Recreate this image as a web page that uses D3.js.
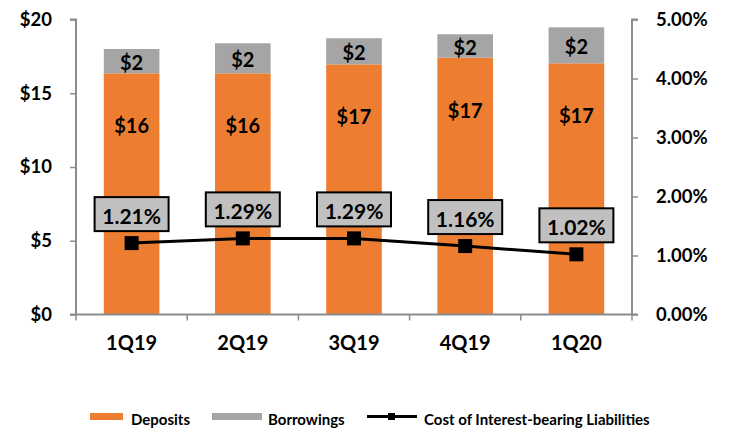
<!DOCTYPE html>
<html>
<head>
<meta charset="utf-8">
<script src="https://cdn.jsdelivr.net/npm/d3@7"></script>
<style>
  html, body { margin: 0; padding: 0; background: #fff; }
  svg { display: block; font-family: Lato, "Open Sans", sans-serif; font-weight: bold; }
</style>
</head>
<body>
<svg id="chart" width="732" height="429"></svg>
<script>
const categories = ["1Q19", "2Q19", "3Q19", "4Q19", "1Q20"];
const deposits = [16.35, 16.35, 16.96, 17.41, 17.03];
const borrowings = [1.65, 2.04, 1.77, 1.59, 2.44];
const depositLabels = ["$16", "$16", "$17", "$17", "$17"];
const borrowingLabels = ["$2", "$2", "$2", "$2", "$2"];
const costRate = [1.21, 1.29, 1.29, 1.16, 1.02];
const costLabels = ["1.21%", "1.29%", "1.29%", "1.16%", "1.02%"];
const leftTicks = [0, 5, 10, 15, 20];
const rightTicks = [0, 1, 2, 3, 4, 5];
const legendItems = ["Deposits", "Borrowings", "Cost of Interest-bearing Liabilities"];

const svg = d3.select("#chart");
const plotLeft = 76, plotRight = 632, plotTop = 19.5, plotBottom = 314.5;
const orange = "#ED7D31", gray = "#A5A5A5", axisColor = "#8c8c8c";

const x = d3.scaleBand().domain(categories).range([plotLeft, plotRight]).paddingInner(0.5).paddingOuter(0.25);
const band = d3.scaleBand().domain(categories).range([plotLeft, plotRight]);
const yL = d3.scaleLinear().domain([0, 20]).range([plotBottom, plotTop]);
const yR = d3.scaleLinear().domain([0, 5]).range([plotBottom, plotTop]);

// bars
const g = svg.append("g");
g.selectAll("rect.dep").data(categories).join("rect")
  .attr("x", d => x(d)).attr("width", x.bandwidth())
  .attr("y", (d, i) => yL(deposits[i]))
  .attr("height", (d, i) => yL(0) - yL(deposits[i]))
  .attr("fill", orange);
g.selectAll("rect.bor").data(categories).join("rect")
  .attr("x", d => x(d)).attr("width", x.bandwidth())
  .attr("y", (d, i) => yL(deposits[i] + borrowings[i]))
  .attr("height", (d, i) => yL(deposits[i]) - yL(deposits[i] + borrowings[i]))
  .attr("fill", gray);

// bar labels
g.selectAll("text.dep").data(categories).join("text")
  .attr("x", d => x(d) + x.bandwidth() / 2)
  .attr("y", (d, i) => yL(deposits[i]) + 52)
  .attr("text-anchor", "middle").attr("dominant-baseline", "central")
  .attr("font-size", 20).attr("fill", "#000")
  .text((d, i) => depositLabels[i]);
g.selectAll("text.bor").data(categories).join("text")
  .attr("x", d => x(d) + x.bandwidth() / 2)
  .attr("y", (d, i) => yL(deposits[i] + borrowings[i] / 2) + 1)
  .attr("text-anchor", "middle").attr("dominant-baseline", "central")
  .attr("font-size", 20).attr("fill", "#000")
  .text((d, i) => borrowingLabels[i]);

// axes
const axL = svg.append("g").attr("transform", `translate(${plotLeft},0)`)
  .call(d3.axisLeft(yL).tickValues(leftTicks).tickFormat(d => "$" + d).tickSize(6).tickPadding(18));
const axR = svg.append("g").attr("transform", `translate(${plotRight},0)`)
  .call(d3.axisRight(yR).tickValues(rightTicks).tickFormat(d => d.toFixed(2) + "%").tickSize(6).tickPadding(18));
const axB = svg.append("g").attr("transform", `translate(0,${plotBottom})`)
  .call(d3.axisBottom(band).tickSize(0).tickPadding(21));
// band boundary ticks
svg.append("g").selectAll("line").data(categories.concat(["end"])).join("line")
  .attr("x1", (d, i) => plotLeft + i * band.step()).attr("x2", (d, i) => plotLeft + i * band.step())
  .attr("y1", plotBottom).attr("y2", plotBottom + 6)
  .attr("stroke", axisColor).attr("stroke-width", 1.5);

[axL, axR, axB].forEach(a => {
  a.select(".domain").attr("stroke", axisColor).attr("stroke-width", 2);
  a.selectAll(".tick line").attr("stroke", axisColor).attr("stroke-width", 1.5);
  a.selectAll(".tick text").attr("fill", "#000").attr("font-size", 18.5).attr("font-weight", "bold")
    .attr("font-family", "Lato, 'Open Sans', sans-serif");
});
axB.selectAll(".tick text").attr("font-size", 20);
axL.select(".domain").attr("d", `M-6,${plotTop}H0V${plotBottom}H-6`);
axR.select(".domain").attr("d", `M6,${plotTop}H0V${plotBottom}H6`);
axB.select(".domain").attr("d", `M${plotLeft},0H${plotRight}`);

// line
const cx = d => band(d) + band.bandwidth() / 2;
const line = d3.line().x((d, i) => cx(categories[i])).y(d => yR(d));
svg.append("path").datum(costRate).attr("d", line)
  .attr("fill", "none").attr("stroke", "#000").attr("stroke-width", 3);
svg.selectAll("rect.mk").data(costRate).join("rect")
  .attr("x", (d, i) => cx(categories[i]) - 7).attr("y", d => yR(d) - 7)
  .attr("width", 14).attr("height", 14).attr("fill", "#000");

// percentage label boxes
const lbl = svg.append("g").selectAll("g").data(costRate).join("g")
  .attr("transform", (d, i) => `translate(${cx(categories[i])},${yR(d) - 29})`);
lbl.append("rect").attr("x", -37).attr("y", -17).attr("width", 74).attr("height", 34)
  .attr("fill", "#C0C0C0").attr("stroke", "#000").attr("stroke-width", 2);
lbl.append("text").attr("text-anchor", "middle").attr("dominant-baseline", "central")
  .attr("y", 1).attr("font-size", 21).attr("fill", "#000")
  .text((d, i) => costLabels[i]);

// legend
const lg = svg.append("g").attr("font-size", 15).attr("fill", "#000");
lg.append("rect").attr("x", 90).attr("y", 413).attr("width", 33).attr("height", 7).attr("fill", orange);
lg.append("text").attr("x", 131).attr("y", 419).attr("dominant-baseline", "central").text(legendItems[0]);
lg.append("rect").attr("x", 212).attr("y", 413).attr("width", 50).attr("height", 7).attr("fill", gray);
lg.append("text").attr("x", 268).attr("y", 419).attr("dominant-baseline", "central").text(legendItems[1]);
lg.append("line").attr("x1", 367).attr("x2", 417).attr("y1", 416.5).attr("y2", 416.5)
  .attr("stroke", "#000").attr("stroke-width", 3);
lg.append("rect").attr("x", 388).attr("y", 413).attr("width", 7).attr("height", 7).attr("fill", "#000");
lg.append("text").attr("x", 424).attr("y", 419).attr("dominant-baseline", "central").text(legendItems[2]);
</script>
</body>
</html>
